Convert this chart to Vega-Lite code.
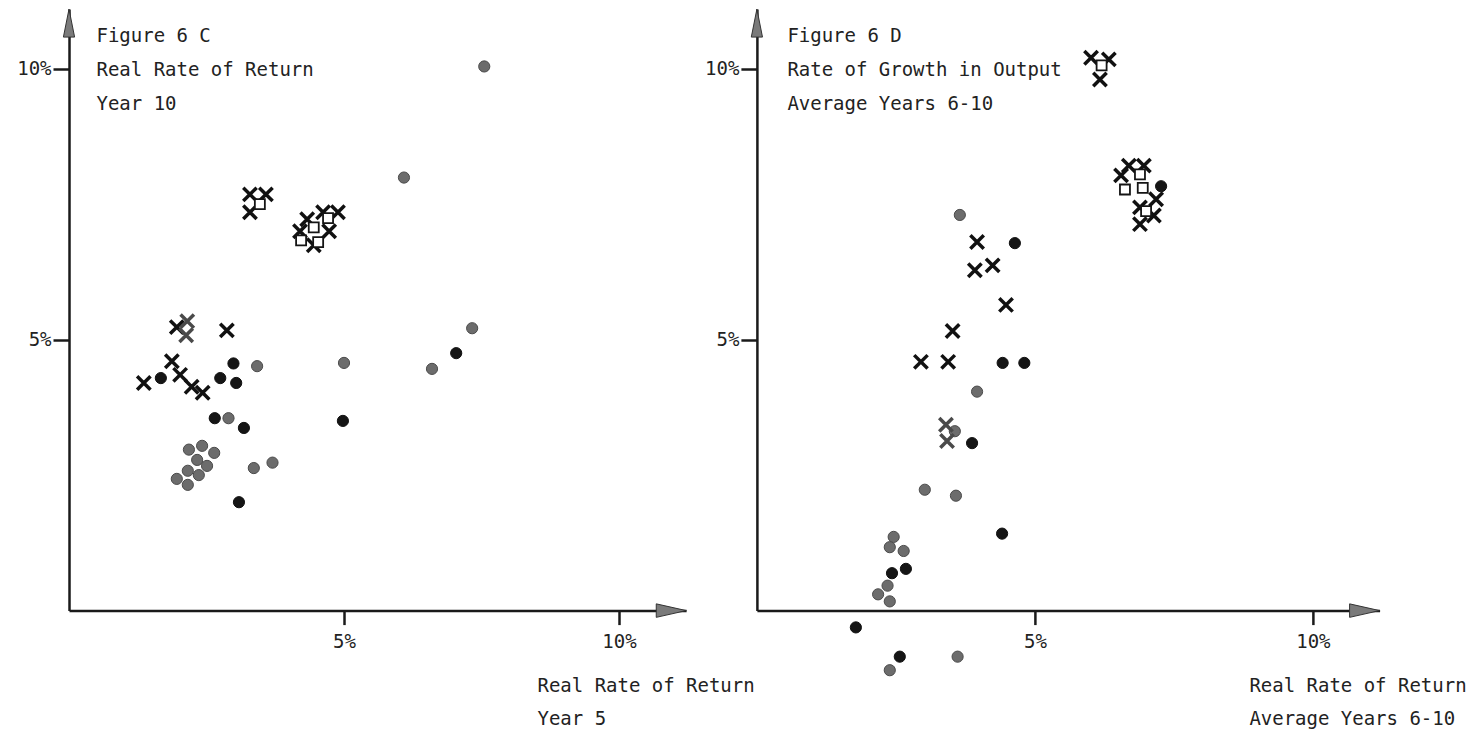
{
  "$schema": "https://vega.github.io/schema/vega-lite/v6.json",
  "background": "white",
  "padding": {"left": 16, "top": 7, "right": 5, "bottom": 5},
  "bounds": "flush",
  "spacing": 69.9,
  "config": {
    "view": {"stroke": null},
    "font": "DejaVu Sans Mono",
    "axis": {
      "grid": false,
      "domainColor": "#1a1a1a",
      "domainWidth": 2.5,
      "tickColor": "#1a1a1a",
      "tickWidth": 2.5,
      "labelFont": "DejaVu Sans Mono",
      "labelFontSize": 19,
      "labelColor": "#222222",
      "labelFlush": false,
      "labelOverlap": false,
      "titleFont": "DejaVu Sans Mono",
      "titleFontSize": 19,
      "titleFontWeight": "normal",
      "titleColor": "#222222",
      "titleAlign": "left",
      "titleBaseline": "top",
      "titleAngle": 0
    },
    "axisX": {"tickSize": 14, "labelPadding": 8, "titleLineHeight": 33},
    "axisY": {"tickSize": 16, "labelPadding": 2, "titleLineHeight": 34}
  },
  "datasets": {
    "c": [
      {"x": 7.55, "y": 10.04, "kind": "dot", "tone": "grey"},
      {"x": 6.09, "y": 7.99, "kind": "dot", "tone": "grey"},
      {"x": 7.33, "y": 5.21, "kind": "dot", "tone": "grey"},
      {"x": 6.6, "y": 4.46, "kind": "dot", "tone": "grey"},
      {"x": 5.0, "y": 4.57, "kind": "dot", "tone": "grey"},
      {"x": 3.42, "y": 4.51, "kind": "dot", "tone": "grey"},
      {"x": 2.9, "y": 3.55, "kind": "dot", "tone": "grey"},
      {"x": 3.36, "y": 2.63, "kind": "dot", "tone": "grey"},
      {"x": 3.7, "y": 2.73, "kind": "dot", "tone": "grey"},
      {"x": 2.18, "y": 2.97, "kind": "dot", "tone": "grey"},
      {"x": 2.42, "y": 3.04, "kind": "dot", "tone": "grey"},
      {"x": 2.64, "y": 2.91, "kind": "dot", "tone": "grey"},
      {"x": 2.33, "y": 2.78, "kind": "dot", "tone": "grey"},
      {"x": 2.51, "y": 2.67, "kind": "dot", "tone": "grey"},
      {"x": 2.16, "y": 2.58, "kind": "dot", "tone": "grey"},
      {"x": 2.36, "y": 2.5, "kind": "dot", "tone": "grey"},
      {"x": 1.96, "y": 2.43, "kind": "dot", "tone": "grey"},
      {"x": 2.16, "y": 2.32, "kind": "dot", "tone": "grey"},
      {"x": 7.04, "y": 4.75, "kind": "dot", "tone": "black"},
      {"x": 4.98, "y": 3.5, "kind": "dot", "tone": "black"},
      {"x": 2.99, "y": 4.56, "kind": "dot", "tone": "black"},
      {"x": 2.75, "y": 4.29, "kind": "dot", "tone": "black"},
      {"x": 3.04, "y": 4.2, "kind": "dot", "tone": "black"},
      {"x": 1.67, "y": 4.29, "kind": "dot", "tone": "black"},
      {"x": 2.65, "y": 3.55, "kind": "dot", "tone": "black"},
      {"x": 3.18, "y": 3.37, "kind": "dot", "tone": "black"},
      {"x": 3.09, "y": 2.0, "kind": "dot", "tone": "black"},
      {"x": 2.87, "y": 5.17, "kind": "x", "tone": "black"},
      {"x": 1.87, "y": 4.6, "kind": "x", "tone": "black"},
      {"x": 1.36, "y": 4.2, "kind": "x", "tone": "black"},
      {"x": 2.02, "y": 4.35, "kind": "x", "tone": "black"},
      {"x": 2.23, "y": 4.13, "kind": "x", "tone": "black"},
      {"x": 2.43, "y": 4.02, "kind": "x", "tone": "black"},
      {"x": 1.96, "y": 5.23, "kind": "x", "tone": "black"},
      {"x": 3.29, "y": 7.68, "kind": "x", "tone": "black"},
      {"x": 3.58, "y": 7.68, "kind": "x", "tone": "black"},
      {"x": 3.29, "y": 7.35, "kind": "x", "tone": "black"},
      {"x": 4.33, "y": 7.22, "kind": "x", "tone": "black"},
      {"x": 4.62, "y": 7.35, "kind": "x", "tone": "black"},
      {"x": 4.89, "y": 7.35, "kind": "x", "tone": "black"},
      {"x": 4.2, "y": 7.0, "kind": "x", "tone": "black"},
      {"x": 4.73, "y": 7.0, "kind": "x", "tone": "black"},
      {"x": 4.45, "y": 6.74, "kind": "x", "tone": "black"},
      {"x": 2.15, "y": 5.34, "kind": "x", "tone": "grey"},
      {"x": 2.13, "y": 5.08, "kind": "x", "tone": "grey"},
      {"x": 3.47, "y": 7.5, "kind": "square", "tone": "black"},
      {"x": 4.45, "y": 7.07, "kind": "square", "tone": "black"},
      {"x": 4.71, "y": 7.24, "kind": "square", "tone": "black"},
      {"x": 4.22, "y": 6.83, "kind": "square", "tone": "black"},
      {"x": 4.53, "y": 6.8, "kind": "square", "tone": "black"}
    ],
    "d": [
      {"x": 6.01, "y": 10.2, "kind": "x", "tone": "black"},
      {"x": 6.33, "y": 10.17, "kind": "x", "tone": "black"},
      {"x": 6.17, "y": 9.8, "kind": "x", "tone": "black"},
      {"x": 6.69, "y": 8.21, "kind": "x", "tone": "black"},
      {"x": 6.96, "y": 8.21, "kind": "x", "tone": "black"},
      {"x": 6.55, "y": 8.03, "kind": "x", "tone": "black"},
      {"x": 7.18, "y": 7.59, "kind": "x", "tone": "black"},
      {"x": 6.89, "y": 7.44, "kind": "x", "tone": "black"},
      {"x": 7.14, "y": 7.29, "kind": "x", "tone": "black"},
      {"x": 6.89, "y": 7.13, "kind": "x", "tone": "black"},
      {"x": 3.96, "y": 6.8, "kind": "x", "tone": "black"},
      {"x": 3.92, "y": 6.28, "kind": "x", "tone": "black"},
      {"x": 4.24, "y": 6.37, "kind": "x", "tone": "black"},
      {"x": 4.48, "y": 5.64, "kind": "x", "tone": "black"},
      {"x": 3.52, "y": 5.16, "kind": "x", "tone": "black"},
      {"x": 2.95, "y": 4.59, "kind": "x", "tone": "black"},
      {"x": 3.44, "y": 4.59, "kind": "x", "tone": "black"},
      {"x": 3.4, "y": 3.43, "kind": "x", "tone": "grey"},
      {"x": 3.42, "y": 3.13, "kind": "x", "tone": "grey"},
      {"x": 6.2, "y": 10.06, "kind": "square", "tone": "black"},
      {"x": 6.89, "y": 8.05, "kind": "square", "tone": "black"},
      {"x": 6.62, "y": 7.77, "kind": "square", "tone": "black"},
      {"x": 6.94, "y": 7.8, "kind": "square", "tone": "black"},
      {"x": 7.0, "y": 7.37, "kind": "square", "tone": "black"},
      {"x": 7.27, "y": 7.83, "kind": "dot", "tone": "black"},
      {"x": 4.64, "y": 6.78, "kind": "dot", "tone": "black"},
      {"x": 4.42, "y": 4.57, "kind": "dot", "tone": "black"},
      {"x": 4.81, "y": 4.57, "kind": "dot", "tone": "black"},
      {"x": 3.87, "y": 3.09, "kind": "dot", "tone": "black"},
      {"x": 4.41, "y": 1.42, "kind": "dot", "tone": "black"},
      {"x": 2.68, "y": 0.77, "kind": "dot", "tone": "black"},
      {"x": 2.43, "y": 0.69, "kind": "dot", "tone": "black"},
      {"x": 1.78, "y": -0.31, "kind": "dot", "tone": "black"},
      {"x": 2.57, "y": -0.85, "kind": "dot", "tone": "black"},
      {"x": 3.65, "y": 7.3, "kind": "dot", "tone": "grey"},
      {"x": 3.96, "y": 4.04, "kind": "dot", "tone": "grey"},
      {"x": 3.56, "y": 3.31, "kind": "dot", "tone": "grey"},
      {"x": 3.02, "y": 2.23, "kind": "dot", "tone": "grey"},
      {"x": 3.58, "y": 2.12, "kind": "dot", "tone": "grey"},
      {"x": 2.46, "y": 1.36, "kind": "dot", "tone": "grey"},
      {"x": 2.39, "y": 1.17, "kind": "dot", "tone": "grey"},
      {"x": 2.64, "y": 1.1, "kind": "dot", "tone": "grey"},
      {"x": 2.35, "y": 0.46, "kind": "dot", "tone": "grey"},
      {"x": 2.18, "y": 0.3, "kind": "dot", "tone": "grey"},
      {"x": 2.39, "y": 0.17, "kind": "dot", "tone": "grey"},
      {"x": 3.61, "y": -0.85, "kind": "dot", "tone": "grey"},
      {"x": 2.39, "y": -1.1, "kind": "dot", "tone": "grey"}
    ]
  },
  "hconcat": [
    {
      "width": 617.1,
      "height": 601.6,
      "layer": [
        {
          "data": {"name": "c"},
          "transform": [{"filter": "datum.kind === 'dot'"}],
          "mark": {"type": "point", "shape": "circle", "filled": true, "size": 125, "strokeWidth": 1, "opacity": 1},
          "encoding": {
            "x": {"field": "x", "type": "quantitative", "scale": {"domain": [0, 11.22], "nice": false, "zero": false},
              "axis": {"values": [5, 10], "labelExpr": "datum.value + '%'", "title": ["Real Rate of Return", "Year 5"], "titleX": 468, "titleY": 66}},
            "y": {"field": "y", "type": "quantitative", "scale": {"domain": [0, 11.1], "nice": false, "zero": false},
              "axis": {"values": [5, 10], "labelExpr": "datum.value + '%'", "title": ["Figure 6 C", "Real Rate of Return", "Year 10"], "titleX": 27, "titleY": 18}},
            "fill": {"field": "tone", "type": "nominal", "scale": {"domain": ["black", "grey"], "range": ["#151515", "#6c6c6c"]}, "legend": null},
            "stroke": {"field": "tone", "type": "nominal", "scale": {"domain": ["black", "grey"], "range": ["#111111", "#4a4a4a"]}, "legend": null}
          }
        },
        {
          "data": {"name": "c"},
          "transform": [{"filter": "datum.kind === 'x'"}],
          "mark": {"type": "point", "shape": "M-1,-1L1,1M-1,1L1,-1", "filled": false, "size": 180, "strokeWidth": 3.5, "opacity": 1},
          "encoding": {
            "x": {"field": "x", "type": "quantitative"},
            "y": {"field": "y", "type": "quantitative"},
            "stroke": {"field": "tone", "type": "nominal", "scale": {"domain": ["black", "grey"], "range": ["#151515", "#707070"]}, "legend": null}
          }
        },
        {
          "data": {"name": "c"},
          "transform": [{"filter": "datum.kind === 'square'"}],
          "mark": {"type": "point", "shape": "square", "filled": false, "fill": "white", "fillOpacity": 1, "stroke": "#151515", "size": 100, "strokeWidth": 1.8, "opacity": 1},
          "encoding": {
            "x": {"field": "x", "type": "quantitative"},
            "y": {"field": "y", "type": "quantitative"}
          }
        },
        {
          "data": {"values": [{"arrow": "up"}]},
          "mark": {"type": "point", "shape": "M0,-1L0.4,1L-0.4,1Z", "filled": true, "fill": "#7a7a7a", "stroke": "#333333", "strokeWidth": 1, "size": 784, "opacity": 1},
          "encoding": {
            "x": {"datum": 0, "type": "quantitative"},
            "y": {"datum": 10.84, "type": "quantitative"}
          }
        },
        {
          "data": {"values": [{"arrow": "right"}]},
          "mark": {"type": "point", "shape": "M1,0L-1,-0.45L-1,0.45Z", "filled": true, "fill": "#7a7a7a", "stroke": "#333333", "strokeWidth": 1, "size": 900, "opacity": 1},
          "encoding": {
            "x": {"datum": 10.95, "type": "quantitative"},
            "y": {"datum": 0, "type": "quantitative"}
          }
        }
      ]
    },
    {
      "width": 622.7,
      "height": 601.6,
      "layer": [
        {
          "data": {"name": "d"},
          "transform": [{"filter": "datum.kind === 'dot'"}],
          "mark": {"type": "point", "shape": "circle", "filled": true, "size": 125, "strokeWidth": 1, "opacity": 1},
          "encoding": {
            "x": {"field": "x", "type": "quantitative", "scale": {"domain": [0, 11.2], "nice": false, "zero": false},
              "axis": {"values": [5, 10], "labelExpr": "datum.value + '%'", "title": ["Real Rate of Return", "Average Years 6-10"], "titleX": 492, "titleY": 66}},
            "y": {"field": "y", "type": "quantitative", "scale": {"domain": [0, 11.1], "nice": false, "zero": false},
              "axis": {"values": [5, 10], "labelExpr": "datum.value + '%'", "title": ["Figure 6 D", "Rate of Growth in Output", "Average Years 6-10"], "titleX": 30, "titleY": 18}},
            "fill": {"field": "tone", "type": "nominal", "scale": {"domain": ["black", "grey"], "range": ["#151515", "#6c6c6c"]}, "legend": null},
            "stroke": {"field": "tone", "type": "nominal", "scale": {"domain": ["black", "grey"], "range": ["#111111", "#4a4a4a"]}, "legend": null}
          }
        },
        {
          "data": {"name": "d"},
          "transform": [{"filter": "datum.kind === 'x'"}],
          "mark": {"type": "point", "shape": "M-1,-1L1,1M-1,1L1,-1", "filled": false, "size": 180, "strokeWidth": 3.5, "opacity": 1},
          "encoding": {
            "x": {"field": "x", "type": "quantitative"},
            "y": {"field": "y", "type": "quantitative"},
            "stroke": {"field": "tone", "type": "nominal", "scale": {"domain": ["black", "grey"], "range": ["#151515", "#707070"]}, "legend": null}
          }
        },
        {
          "data": {"name": "d"},
          "transform": [{"filter": "datum.kind === 'square'"}],
          "mark": {"type": "point", "shape": "square", "filled": false, "fill": "white", "fillOpacity": 1, "stroke": "#151515", "size": 100, "strokeWidth": 1.8, "opacity": 1},
          "encoding": {
            "x": {"field": "x", "type": "quantitative"},
            "y": {"field": "y", "type": "quantitative"}
          }
        },
        {
          "data": {"values": [{"arrow": "up"}]},
          "mark": {"type": "point", "shape": "M0,-1L0.4,1L-0.4,1Z", "filled": true, "fill": "#7a7a7a", "stroke": "#333333", "strokeWidth": 1, "size": 784, "opacity": 1},
          "encoding": {
            "x": {"datum": 0, "type": "quantitative"},
            "y": {"datum": 10.84, "type": "quantitative"}
          }
        },
        {
          "data": {"values": [{"arrow": "right"}]},
          "mark": {"type": "point", "shape": "M1,0L-1,-0.45L-1,0.45Z", "filled": true, "fill": "#7a7a7a", "stroke": "#333333", "strokeWidth": 1, "size": 900, "opacity": 1},
          "encoding": {
            "x": {"datum": 10.93, "type": "quantitative"},
            "y": {"datum": 0, "type": "quantitative"}
          }
        }
      ]
    }
  ]
}
